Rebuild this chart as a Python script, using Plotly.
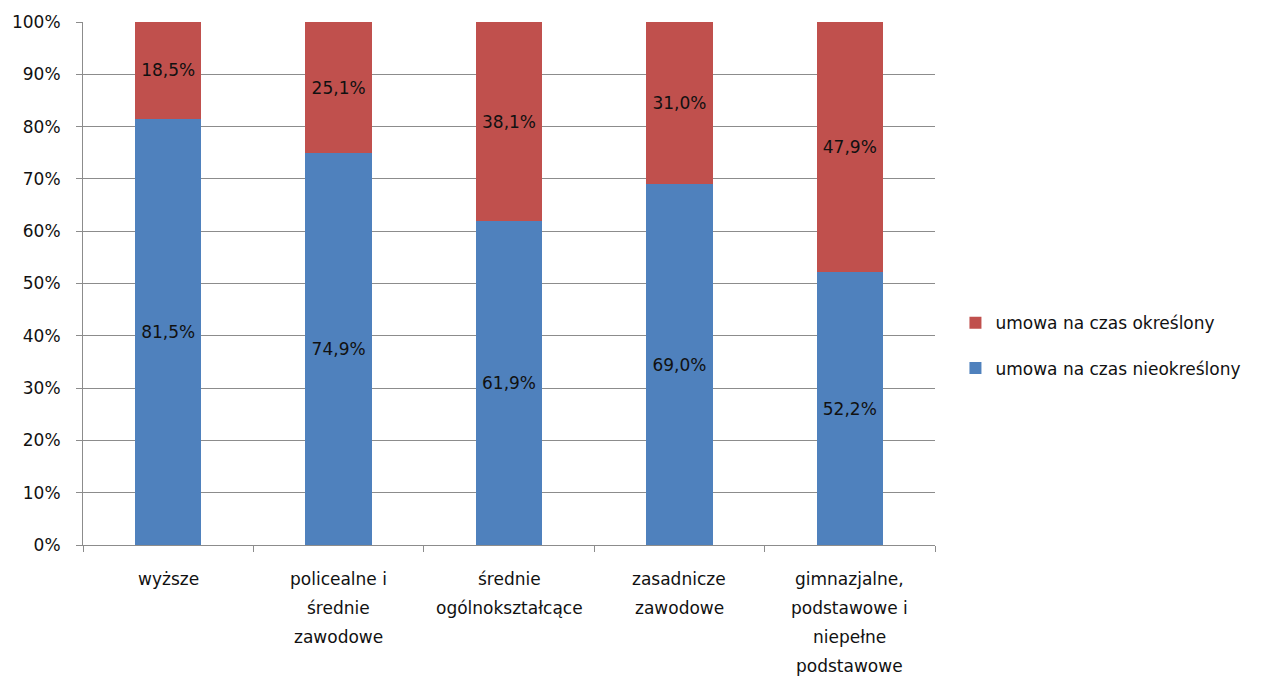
import plotly.graph_objects as go

# Education levels, each split into lines for the axis labels
categories = ["wyższe", "policealne i średnie zawodowe", "średnie ogólnokształcące",
              "zasadnicze zawodowe", "gimnazjalne, podstawowe i niepełne podstawowe"]
category_lines = [
    ["wyższe"],
    ["policealne i", "średnie", "zawodowe"],
    ["średnie", "ogólnokształcące"],
    ["zasadnicze", "zawodowe"],
    ["gimnazjalne,", "podstawowe i", "niepełne", "podstawowe"],
]

# Shares of contract types (%)
nieokreslony = [81.5, 74.9, 61.9, 69.0, 52.2]
okreslony = [18.5, 25.1, 38.1, 31.0, 47.9]

FONT = "DejaVu Sans"
SIZE = 17
TEXT_COLOR = "#111111"
GRID = "#8c8c8c"


def pct(v):
    return f"{v:.1f}%".replace(".", ",")


fig = go.Figure()
fig.add_trace(go.Bar(
    x=categories, y=nieokreslony, name="umowa na czas nieokreślony",
    legendgroup="nieokreslony", legendrank=2,
    marker=dict(color="#4F81BD", line=dict(width=0)),
    text=[pct(v) for v in nieokreslony], textposition="inside",
    insidetextanchor="middle", textangle=0,
    textfont=dict(color=TEXT_COLOR, size=SIZE, family=FONT),
))
fig.add_trace(go.Bar(
    x=categories, y=okreslony, name="umowa na czas określony",
    legendgroup="okreslony", legendrank=1,
    marker=dict(color="#C0504D", line=dict(width=0)),
    text=[pct(v) for v in okreslony], textposition="inside",
    insidetextanchor="middle", textangle=0,
    textfont=dict(color=TEXT_COLOR, size=SIZE, family=FONT),
))

# Multi-line category labels with wide line spacing
annotations = []
for cat, lines in zip(categories, category_lines):
    for i, line in enumerate(lines):
        annotations.append(dict(
            x=cat, xref="x", y=0, yref="paper", yanchor="middle",
            yshift=-(34 + 29 * i), text=line, showarrow=False,
            font=dict(size=SIZE, color=TEXT_COLOR, family=FONT),
        ))

fig.update_layout(
    width=1268, height=678,
    margin=dict(l=83, r=333, t=20, b=133),
    barmode="stack", barnorm="percent", bargap=0.61,
    plot_bgcolor="white", paper_bgcolor="white",
    font=dict(family=FONT, size=SIZE, color=TEXT_COLOR),
    uniformtext=dict(minsize=SIZE, mode="show"),
    showlegend=True,
    legend=dict(
        x=1.024, y=0.381, xanchor="left", yanchor="middle",
        traceorder="grouped", tracegroupgap=20,
        font=dict(size=SIZE, color=TEXT_COLOR, family=FONT),
        itemwidth=30,
    ),
    annotations=annotations,
)
fig.update_xaxes(
    showticklabels=False, tickson="boundaries", ticks="outside",
    ticklen=6, tickcolor=GRID, showline=True, linecolor=GRID, linewidth=1,
    showgrid=False,
)
fig.update_yaxes(
    range=[0, 100], dtick=10, ticksuffix="%", ticks="outside", ticklen=6,
    tickcolor=GRID, showline=True, linecolor=GRID, linewidth=1,
    showgrid=True, gridcolor=GRID, gridwidth=1, zeroline=False,
    ticklabelstandoff=12,
    tickfont=dict(size=SIZE, color=TEXT_COLOR, family=FONT),
)

fig.write_html("out.html")
